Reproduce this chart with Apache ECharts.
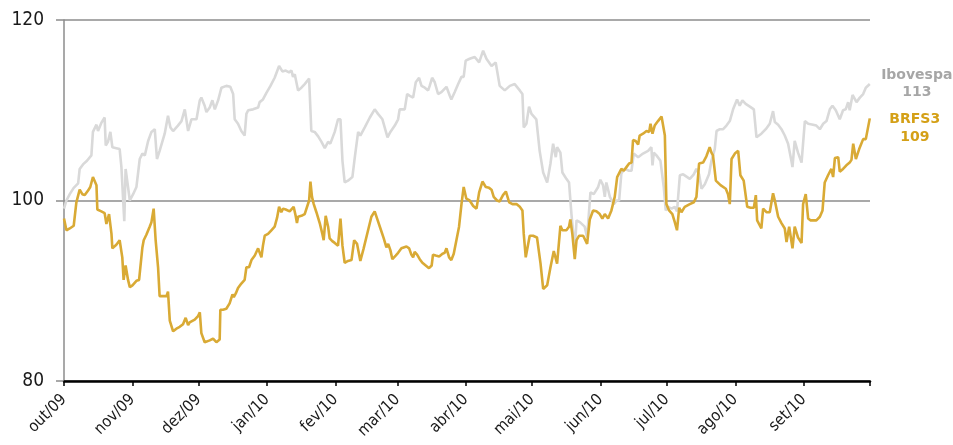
<!DOCTYPE html>
<html>
<head>
<meta charset="utf-8">
<script src="https://cdn.jsdelivr.net/npm/echarts@6/dist/echarts.min.js"></script>
<style>
html,body{margin:0;padding:0;background:#fff;}
#chart{width:953px;height:445px;}
</style>
</head>
<body>
<div id="chart"></div>
<script>
// Days since 2009-10-01 at which each month begins, and their labels
const monthStarts = [0, 31, 61, 92, 123, 151, 182, 212, 243, 273, 304, 335, 365];
const monthLabels = ['out/09','nov/09','dez/09','jan/10','fev/10','mar/10','abr/10','mai/10','jun/10','jul/10','ago/10','set/10'];
const yTicks = [80, 100, 120];

// Ibovespa (base 100)
const iboDays = [
0.0,1.1,2.6,4.4,6.4,7.1,8.6,10.4,12.4,13.1,
14.7,15.4,16.9,18.4,18.9,19.9,21.0,21.9,23.7,25.2,
26.0,27.3,27.9,29.0,29.8,31.3,32.8,34.3,35.5,36.6,
38.1,39.6,41.1,42.1,43.3,45.6,47.1,48.2,49.4,51.6,
53.2,54.7,55.4,56.2,57.7,60.0,61.5,62.2,63.7,64.5,
66.0,67.2,68.3,69.8,71.3,73.5,75.3,76.6,77.3,78.8,
80.3,81.8,82.6,83.4,85.6,87.9,88.6,90.1,91.6,93.5,
95.4,97.4,98.9,100.4,101.9,103.0,103.7,104.5,106.0,107.5,
109.0,111.0,112.0,113.5,115.1,116.6,118.1,119.6,120.6,122.6,
124.1,125.2,126.1,127.1,128.6,130.6,131.7,133.2,134.2,136.2,
138.5,140.7,142.2,144.2,146.5,147.8,149.8,151.3,152.0,152.8,
154.3,155.4,156.6,158.1,159.3,160.8,161.9,163.4,164.9,165.6,
166.7,167.9,169.4,170.9,173.2,174.7,175.4,176.9,178.5,180.0,
181.0,181.9,183.7,186.0,188.0,189.8,191.3,193.6,195.5,197.3,
199.6,201.9,204.1,206.4,207.6,208.2,209.4,210.6,211.7,213.9,
215.4,217.0,218.8,220.3,221.5,222.7,223.3,224.8,225.7,227.5,
228.7,229.8,231.3,232.1,233.6,235.8,236.9,238.4,239.9,241.9,
242.9,244.1,244.9,245.6,247.2,249.0,250.2,251.4,252.4,253.9,
255.9,257.0,258.0,260.0,262.2,264.5,266.0,266.5,267.1,268.3,
270.1,271.6,272.5,273.6,275.1,276.6,277.6,278.9,280.4,283.4,
285.2,286.4,287.6,288.7,290.2,292.1,293.2,294.7,295.5,297.0,
298.5,300.0,301.5,303.0,304.8,306.0,307.2,308.7,310.6,312.4,
313.6,315.8,317.8,319.6,321.1,321.9,323.4,324.9,326.4,327.9,
329.4,329.9,330.9,332.4,334.0,335.5,337.0,339.2,340.7,342.3,
343.8,345.3,346.8,348.0,349.5,351.3,352.8,354.0,355.1,355.8,
357.1,358.9,360.4,361.9,363.1,364.9
];
const iboValues = [
99.1,100.0,100.7,101.4,101.9,103.5,104.0,104.4,105.0,107.6,
108.4,107.7,108.6,109.2,106.1,106.5,107.6,105.9,105.8,105.7,
103.7,97.7,103.5,101.5,100.0,100.7,101.5,104.6,105.2,105.0,
106.6,107.6,107.9,104.6,105.5,107.4,109.4,108.1,107.7,108.3,
108.8,110.1,110.3,107.7,109.0,109.0,111.1,111.4,110.5,109.8,
110.3,111.1,110.1,111.1,112.5,112.7,112.6,111.8,109.0,108.5,
107.7,107.2,109.6,110.0,110.1,110.3,110.9,111.2,111.9,112.7,
113.6,114.9,114.3,114.4,114.2,114.4,113.7,114.0,112.2,112.5,
112.9,113.5,107.7,107.6,107.1,106.5,105.8,106.5,106.3,107.6,
109.0,109.0,104.4,102.0,102.2,102.6,104.8,107.6,107.2,108.1,
109.2,110.1,109.6,109.0,107.0,107.6,108.3,109.0,110.1,110.0,
110.1,111.8,111.6,111.4,113.1,113.6,112.7,112.5,112.2,112.7,
113.6,113.1,111.8,112.0,112.6,111.6,111.2,112.0,112.9,113.7,
113.7,115.5,115.7,115.9,115.3,116.6,115.7,114.9,115.3,112.7,
112.2,112.7,112.9,112.2,111.8,108.1,108.5,110.4,109.6,109.0,
105.5,103.1,102.0,104.1,106.3,104.8,105.9,105.3,103.1,102.4,
102.0,98.5,94.5,97.8,97.6,97.1,95.9,100.9,100.7,101.5,
102.3,101.7,100.4,102.0,100.4,99.6,100.0,100.0,103.0,103.5,
103.3,103.3,105.2,104.8,105.2,105.5,105.9,103.9,105.3,105.0,
104.4,101.5,98.9,99.3,99.1,99.3,98.8,102.8,102.9,102.4,
102.9,103.5,102.9,101.3,101.8,102.9,104.4,105.7,107.7,107.9,
107.9,108.3,108.8,110.1,111.2,110.5,111.1,110.7,110.4,110.1,
107.0,107.4,107.9,108.5,109.9,108.7,108.4,107.9,107.2,106.3,
104.4,103.7,106.6,105.3,104.2,108.8,108.5,108.4,108.3,107.9,
108.5,108.8,110.1,110.5,110.0,109.0,110.0,110.1,110.9,110.0,
111.7,110.9,111.4,111.8,112.5,112.9
];

// BRFS3 (base 100)
const brfDays = [
0.0,1.1,2.6,4.4,5.6,6.4,7.1,8.3,9.4,10.9,
11.9,13.1,14.7,15.1,16.9,18.4,19.2,20.4,21.5,21.9,
23.7,25.2,26.4,27.0,27.9,29.0,29.8,31.0,32.8,34.0,
35.5,36.1,37.3,38.8,39.6,40.6,41.5,42.6,43.3,44.9,
46.4,47.1,47.9,49.4,50.9,52.4,53.9,55.1,56.2,56.9,
59.2,60.7,61.5,62.2,63.0,63.7,66.0,67.5,69.0,70.5,
70.8,72.0,73.5,75.0,76.3,76.9,77.8,78.8,80.3,81.8,
82.6,83.8,84.9,86.4,87.9,88.6,89.4,90.1,90.9,92.4,
93.9,95.4,96.5,97.4,98.4,99.2,100.4,102.2,103.0,104.0,
104.9,105.5,106.0,107.5,109.0,109.8,111.0,111.6,112.3,113.1,
114.3,115.8,117.0,117.6,118.5,119.6,120.3,121.5,122.6,124.1,
125.2,126.1,127.1,128.6,130.2,131.4,132.7,134.2,135.7,137.7,
139.2,140.7,141.8,143.3,144.8,146.0,146.8,147.8,148.7,150.2,
151.3,152.0,152.8,153.5,155.1,156.3,157.3,158.1,158.8,159.9,
161.1,162.3,163.8,165.3,166.5,167.1,168.3,169.9,171.4,172.4,
173.2,174.4,175.4,176.5,177.7,178.9,180.0,181.0,182.2,183.7,
185.3,186.8,188.0,189.5,191.0,192.5,193.6,194.6,196.1,197.3,
198.8,200.1,201.6,203.1,204.9,206.4,207.6,208.2,209.1,210.9,
212.4,214.2,215.8,217.0,218.8,220.3,221.8,223.3,224.8,225.7,
227.5,228.7,229.3,230.2,231.3,232.1,233.3,235.1,236.9,238.1,
239.6,241.1,242.6,243.8,244.9,246.4,247.9,249.4,250.5,252.4,
253.5,254.7,255.9,257.0,257.7,258.9,260.0,260.7,262.2,263.8,
265.0,265.6,266.5,267.5,269.0,270.6,272.1,272.8,274.0,275.5,
276.6,277.6,278.6,279.6,281.1,283.4,285.2,286.4,287.6,289.4,
290.9,292.4,293.2,293.9,295.2,297.3,299.7,300.7,301.5,302.3,
303.8,305.3,306.3,307.8,309.4,310.9,312.4,313.3,313.9,315.8,
316.6,318.1,319.6,321.1,321.9,323.4,324.9,326.4,327.2,328.4,
329.9,330.9,332.4,334.0,334.7,335.9,337.0,338.0,339.5,340.7,
342.3,343.5,344.5,346.0,347.5,348.3,349.1,350.6,351.3,352.8,
354.3,355.8,356.6,357.4,358.6,360.1,361.9,363.1,364.9
];
const brfValues = [
98.0,96.7,96.9,97.2,99.8,100.0,101.2,100.7,100.6,101.1,
101.5,102.6,101.7,99.0,98.8,98.6,97.4,98.5,96.3,94.7,
95.1,95.6,93.7,91.2,92.8,91.2,90.4,90.6,91.1,91.2,
94.8,95.6,96.2,97.1,97.6,99.1,95.6,92.6,89.4,89.4,
89.4,89.9,86.7,85.5,85.8,86.0,86.3,87.0,86.2,86.5,
86.8,87.2,87.6,85.3,85.3,84.3,84.5,84.7,84.3,84.6,
87.9,87.9,88.0,88.6,89.6,89.3,89.7,90.3,90.8,91.2,
92.6,92.6,93.4,93.9,94.7,94.7,93.7,95.0,96.1,96.3,
96.7,97.1,98.1,99.3,98.7,99.1,99.0,98.8,98.6,99.3,
98.3,97.5,98.2,98.3,98.5,98.7,100.0,102.1,100.4,99.6,
98.7,97.5,96.3,95.6,98.3,97.1,95.8,95.5,95.3,95.0,
98.0,95.0,93.1,93.3,93.4,95.6,95.2,93.3,94.7,96.7,
98.2,98.8,98.0,96.9,95.8,94.8,95.2,94.5,93.5,93.9,
94.2,94.2,94.7,94.8,94.9,94.7,94.0,93.7,94.3,94.0,
93.5,93.1,92.8,92.5,92.8,94.0,93.9,93.8,94.1,94.2,
94.7,93.7,93.4,94.1,95.6,97.1,99.6,101.5,100.2,100.0,
99.4,99.1,100.9,102.1,101.5,101.4,101.2,100.4,100.0,99.9,
100.6,101.0,99.8,99.6,99.6,99.3,98.9,96.3,93.7,96.1,
96.1,95.9,93.0,90.2,90.6,92.6,94.4,93.0,97.2,96.7,
96.7,97.1,97.9,96.3,93.5,95.6,96.1,96.1,95.2,97.9,
98.9,98.8,98.5,98.0,98.5,98.0,98.9,100.4,102.6,103.5,
103.3,103.7,104.1,104.2,106.7,106.6,106.2,107.2,107.4,107.7,
107.6,108.5,107.4,108.3,108.8,109.3,107.2,99.6,98.9,98.5,
97.6,96.7,99.2,98.7,99.3,99.6,99.8,100.4,104.1,104.2,
104.9,105.9,105.3,105.0,102.2,101.7,101.3,100.7,99.6,104.6,
105.2,105.5,102.8,102.2,99.3,99.2,99.2,100.6,97.8,96.9,
99.1,98.7,98.7,100.8,100.0,98.2,97.5,96.9,95.4,97.1,
94.7,97.1,95.9,95.3,99.6,100.7,98.0,97.8,97.8,97.8,
98.2,98.9,102.0,102.8,103.5,102.6,104.7,104.8,103.2,103.5,
103.9,104.2,104.5,106.3,104.6,105.7,106.8,106.8,109.1
];

function pairs(days, vals) {
  return days.map((d, i) => [d, vals[i]]);
}

const chart = echarts.init(document.getElementById('chart'), null, {renderer: 'canvas'});
const FONT = 'DejaVu Sans';
const AXFONT = "'DejaVu Sans Condensed', 'DejaVu Sans'";

chart.setOption({
  animation: false,
  backgroundColor: '#ffffff',
  grid: {left: 64, right: 83, top: 20, bottom: 64, containLabel: false},
  xAxis: {
    type: 'value',
    min: monthStarts[0],
    max: monthStarts[monthStarts.length - 1],
    axisLine: {show: true, onZero: false, lineStyle: {color: '#000', width: 2.5}},
    axisTick: {show: true, length: 5, lineStyle: {color: '#000', width: 1.5}, customValues: monthStarts},
    axisLabel: {
      show: true,
      customValues: monthStarts.slice(0, monthLabels.length),
      formatter: v => monthLabels[monthStarts.indexOf(v)] || '',
      rotate: 45,
      margin: 16,
      fontFamily: AXFONT,
      fontSize: 16,
      color: '#1a1a1a'
    },
    splitLine: {show: false}
  },
  yAxis: {
    type: 'value',
    min: yTicks[0],
    max: yTicks[yTicks.length - 1],
    interval: 20,
    axisLine: {show: true, lineStyle: {color: '#8c8c8c', width: 1.5}},
    axisTick: {show: true, length: 8, lineStyle: {color: '#8c8c8c', width: 1.5}},
    axisLabel: {fontFamily: AXFONT, fontSize: 19, color: '#1a1a1a', margin: 20},
    splitLine: {show: true, lineStyle: {color: '#8c8c8c', width: 1.5}}
  },
  series: [
    {
      name: 'Ibovespa',
      type: 'line',
      data: pairs(iboDays, iboValues),
      showSymbol: false,
      symbol: 'none',
      lineStyle: {color: '#d9d9d9', width: 2.6},
      itemStyle: {color: '#d9d9d9'},
      z: 2,
      endLabel: {
        show: true,
        formatter: p => p.seriesName + '\n' + Math.round(p.value[1]),
        fontFamily: FONT,
        fontWeight: 'bold',
        fontSize: 14,
        lineHeight: 17,
        color: '#a6a6a6',
        align: 'center',
        distance: 47,
        offset: [0, 0]
      }
    },
    {
      name: 'BRFS3',
      type: 'line',
      data: pairs(brfDays, brfValues),
      showSymbol: false,
      symbol: 'none',
      lineStyle: {color: '#d9aa35', width: 2.6},
      itemStyle: {color: '#d9aa35'},
      z: 3,
      endLabel: {
        show: true,
        formatter: p => p.seriesName + '\n' + Math.round(p.value[1]),
        fontFamily: FONT,
        fontWeight: 'bold',
        fontSize: 14,
        lineHeight: 18,
        color: '#d4a017',
        align: 'center',
        distance: 45,
        offset: [0, 10]
      }
    }
  ]
});
</script>
</body>
</html>
